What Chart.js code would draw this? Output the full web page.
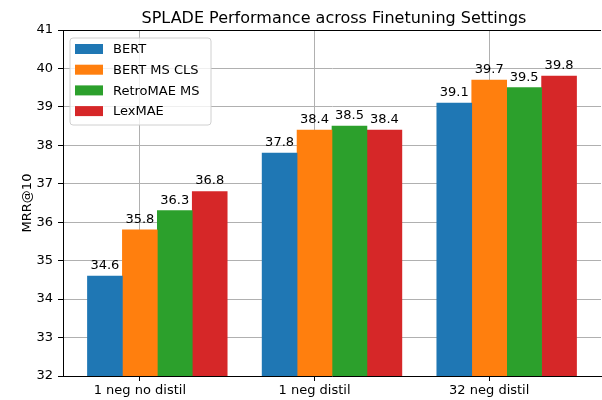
<!DOCTYPE html>
<html>
<head>
<meta charset="utf-8">
<script src="https://cdn.jsdelivr.net/npm/chart.js@4/dist/chart.umd.min.js"></script>
<style>
html,body{margin:0;padding:0;background:#fff;}
#wrap{width:602px;height:400px;position:relative;}
</style>
</head>
<body>
<div id="wrap"><canvas id="c" width="602" height="400"></canvas></div>
<script>
const categories = ["1 neg no distil", "1 neg distil", "32 neg distil"];
const seriesNames = ["BERT", "BERT MS CLS", "RetroMAE MS", "LexMAE"];
const bert = [34.6, 37.8, 39.1];
const bertMsCls = [35.8, 38.4, 39.7];
const retroMaeMs = [36.3, 38.5, 39.5];
const lexMae = [36.8, 38.4, 39.8];
const yTicks = [32, 33, 34, 35, 36, 37, 38, 39, 40, 41];

const colors = ["#1f77b4", "#ff7f0e", "#2ca02c", "#d62728"];
const offsets = [-0.2, 0, 0.2, 0.4];
const allSeries = [bert, bertMsCls, retroMaeMs, lexMae];
const FONT = "'DejaVu Sans', sans-serif";

const datasets = allSeries.map((vals, s) => ({
  label: seriesNames[s],
  backgroundColor: colors[s],
  borderWidth: 0,
  grouped: false,
  barPercentage: 1,
  categoryPercentage: 1,
  data: vals.map((v, i) => ({ x: i + offsets[s], y: v }))
}));

const overlay = {
  id: 'overlay',
  afterDraw(chart) {
    const ctx = chart.ctx;
    const a = chart.chartArea;
    ctx.save();
    // top spine
    ctx.strokeStyle = '#000';
    ctx.lineWidth = 1;
    ctx.beginPath();
    ctx.moveTo(a.left, a.top + 0.5);
    ctx.lineTo(a.right, a.top + 0.5);
    ctx.stroke();
    // title
    ctx.fillStyle = '#000';
    ctx.font = "16px " + FONT;
    ctx.textAlign = 'center';
    ctx.textBaseline = 'alphabetic';
    ctx.fillText("SPLADE Performance across Finetuning Settings", (a.left + a.right) / 2 + 2, 23);
    // value labels
    ctx.font = "13px " + FONT;
    chart.data.datasets.forEach((ds, s) => {
      const meta = chart.getDatasetMeta(s);
      meta.data.forEach((bar, i) => {
        const v = ds.data[i].y;
        ctx.fillText(v.toFixed(1), bar.x, bar.y - 7);
      });
    });
    // legend
    const lx = 70, ly = 38, lw = 141, lh = 87, r = 3;
    ctx.fillStyle = 'rgba(255,255,255,0.8)';
    ctx.strokeStyle = '#d0d0d0';
    ctx.beginPath();
    ctx.moveTo(lx + r, ly);
    ctx.lineTo(lx + lw - r, ly);
    ctx.quadraticCurveTo(lx + lw, ly, lx + lw, ly + r);
    ctx.lineTo(lx + lw, ly + lh - r);
    ctx.quadraticCurveTo(lx + lw, ly + lh, lx + lw - r, ly + lh);
    ctx.lineTo(lx + r, ly + lh);
    ctx.quadraticCurveTo(lx, ly + lh, lx, ly + lh - r);
    ctx.lineTo(lx, ly + r);
    ctx.quadraticCurveTo(lx, ly, lx + r, ly);
    ctx.closePath();
    ctx.fill();
    ctx.stroke();
    ctx.textAlign = 'left';
    ctx.textBaseline = 'middle';
    chart.data.datasets.forEach((ds, s) => {
      const cy = 49 + s * 20.7;
      ctx.fillStyle = ds.backgroundColor;
      ctx.fillRect(75, cy - 5, 28, 10);
      ctx.fillStyle = '#000';
      ctx.fillText(ds.label, 113, cy + 1);
    });
    ctx.restore();
  }
};

new Chart(document.getElementById('c'), {
  type: 'bar',
  data: { datasets },
  options: {
    responsive: false,
    animation: false,
    layout: { padding: { left: 0, right: 1, top: 30, bottom: 0 } },
    plugins: { legend: { display: false }, tooltip: { enabled: false }, title: { display: false } },
    scales: {
      x: {
        type: 'linear',
        min: -0.44,
        max: 2.64,
        offset: false,
        z: 1,
        afterBuildTicks(scale) { scale.ticks = categories.map((c, i) => ({ value: i })); },
        afterFit(scale) { scale.height = 24; },
        ticks: {
          callback: (v) => categories[v] !== undefined ? categories[v] : '',
          color: '#000',
          font: { family: FONT, size: 13 },
          padding: 2,
          maxRotation: 0,
          autoSkip: false
        },
        grid: { offset: false, color: '#b0b0b0', lineWidth: 1, tickColor: '#000', tickLength: 5, drawTicks: true },
        border: { color: '#000', width: 1 }
      },
      y: {
        min: 32,
        max: 41,
        z: 1,
        afterBuildTicks(scale) { scale.ticks = yTicks.map(v => ({ value: v })); },
        afterFit(scale) { scale.width = 63; },
        ticks: {
          color: '#000',
          font: { family: FONT, size: 13 },
          padding: 5
        },
        title: {
          display: true,
          text: 'MRR@10',
          color: '#000',
          font: { family: FONT, size: 13 },
          padding: { top: 20, bottom: 0 }
        },
        grid: { color: '#b0b0b0', lineWidth: 1, tickColor: '#000', tickLength: 5 },
        border: { color: '#000', width: 1 }
      }
    }
  },
  plugins: [overlay]
});
</script>
</body>
</html>
